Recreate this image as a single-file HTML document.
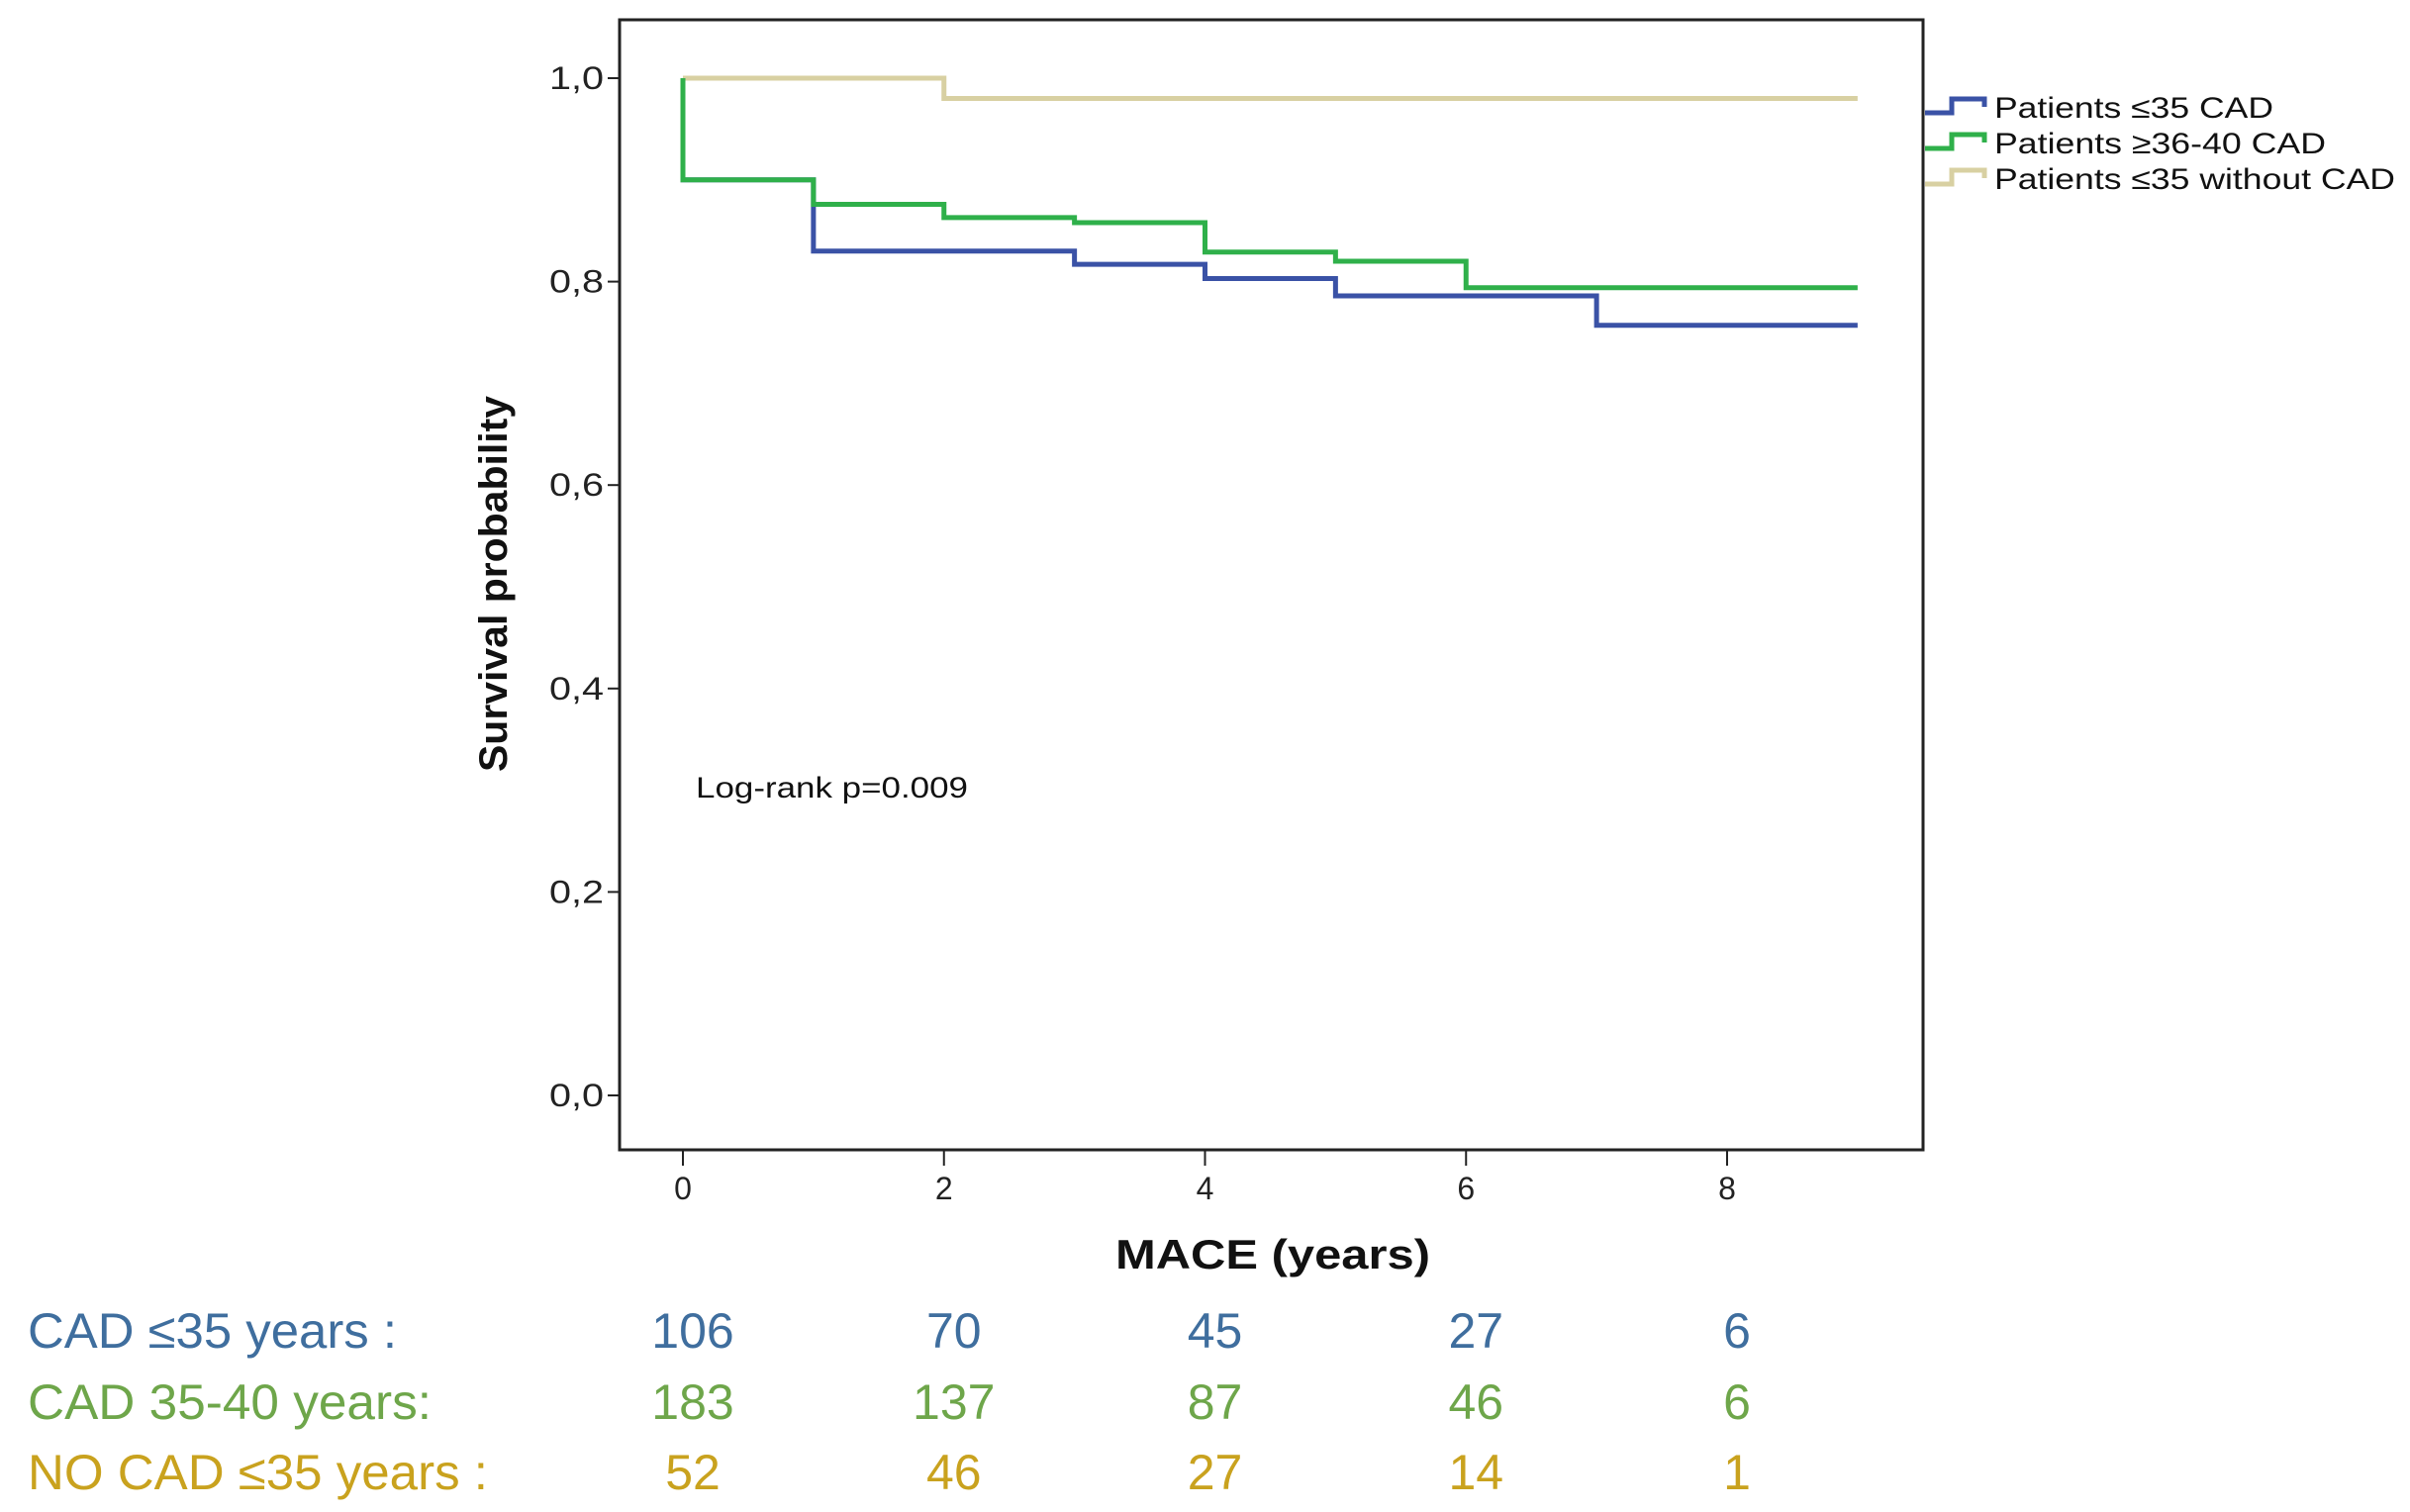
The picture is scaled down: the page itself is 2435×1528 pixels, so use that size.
<!DOCTYPE html>
<html><head><meta charset="utf-8"><style>
html,body{margin:0;padding:0;background:#fff;}
svg{display:block;}
</style></head><body>
<svg id="chart" width="2435" height="1528" viewBox="0 0 2435 1528" xmlns="http://www.w3.org/2000/svg">
  <rect x="626" y="20" width="1317" height="1142" fill="#fff" stroke="#222" stroke-width="3"/>
  <g id="yticks"></g>
  <g id="xticks"></g>
  <g id="curves"></g>
  <text x="512" y="590" transform="rotate(-90 512 590)" text-anchor="middle" font-family="Liberation Sans, sans-serif" font-weight="bold" font-size="40" fill="#111" textLength="380" lengthAdjust="spacingAndGlyphs">Survival probability</text>
  <text x="1286" y="1282" text-anchor="middle" font-family="Liberation Sans, sans-serif" font-weight="bold" font-size="42" fill="#111" textLength="318" lengthAdjust="spacingAndGlyphs">MACE  (years)</text>
  <text x="703" y="806" font-family="Liberation Sans, sans-serif" font-size="30" fill="#111" textLength="275" lengthAdjust="spacingAndGlyphs">Log-rank p=0.009</text>
  <g id="legend"></g>
  <g id="risk"></g>
</svg>
<script>
const yTicks = [0, 0.2, 0.4, 0.6, 0.8, 1.0];
const yTickLabels = ["0,0","0,2","0,4","0,6","0,8","1,0"];
const xTicks = [0, 2, 4, 6, 8];
const seriesNames = ["Patients \u226435 CAD","Patients \u226536-40 CAD","Patients \u226435 without CAD"];
const blueTimes = [0, 0, 1, 3, 4, 5, 7, 9];
const blueValues = [1.0, 0.9, 0.830, 0.817, 0.803, 0.786, 0.757, 0.757];
const greenTimes = [0, 0, 1, 2, 3, 4, 5, 6, 9];
const greenValues = [1.0, 0.9, 0.876, 0.863, 0.858, 0.829, 0.820, 0.794, 0.794];
const tanTimes = [0, 2, 9];
const tanValues = [1.0, 0.980, 0.980];
const riskLabels = ["CAD \u226435 years :","CAD 35-40 years:","NO CAD \u226435 years :"];
const riskBlue = [106, 70, 45, 27, 6];
const riskGreen = [183, 137, 87, 46, 6];
const riskGold = [52, 46, 27, 14, 1];

const NS = "http://www.w3.org/2000/svg";
const X = t => 690 + t * (1745 - 690) / 8;
const Y = v => 1107 - v * (1107 - 79);
function mk(tag, attrs, parent){const e=document.createElementNS(NS,tag);for(const k in attrs)e.setAttribute(k,attrs[k]);parent.appendChild(e);return e;}

const yg=document.getElementById('yticks');
yTicks.forEach((v,i)=>{
  const l=mk('line',{x1:614,x2:626,y1:Y(v),y2:Y(v),stroke:'#222','stroke-width':2},yg);
  
  
  const t=mk('text',{x:610,y:Y(v)+11,'text-anchor':'end','font-family':'Liberation Sans, sans-serif','font-size':32,fill:'#222',textLength:55,lengthAdjust:'spacingAndGlyphs'},yg);
  t.textContent=yTickLabels[i];
  
  
});
const xg=document.getElementById('xticks');
xTicks.forEach(v=>{
  const l=mk('line',{x1:X(v),x2:X(v),y1:1162,y2:1178,stroke:'#222','stroke-width':2},xg);
  
  
  const t=mk('text',{x:X(v),y:1212,'text-anchor':'middle','font-family':'Liberation Sans, sans-serif','font-size':32,fill:'#222'},xg);
  t.textContent=String(v);
  
  
});
function stepPath(ts,vs){let d='M'+X(ts[0])+','+Y(vs[0]);for(let i=1;i<ts.length;i++){d+=' H'+X(ts[i])+' V'+Y(vs[i]);}return d;}
const cg=document.getElementById('curves');
const tan=mk('path',{d:stepPath(tanTimes,tanValues),fill:'none',stroke:'#d8d0a2','stroke-width':5},cg);


const blue=mk('path',{d:stepPath(blueTimes,blueValues),fill:'none',stroke:'#3a52a6','stroke-width':5},cg);


const green=mk('path',{d:stepPath(greenTimes,greenValues),fill:'none',stroke:'#2fb04a','stroke-width':5},cg);



const lg=document.getElementById('legend');
const legColors=['#3a52a6','#2fb04a','#d8d0a2'];
const legY=[108,144,180];
const legLen=[282,335,405];
seriesNames.forEach((n,i)=>{
  const y=legY[i];
  const p=mk('path',{d:`M1945,${y+6} H1972 V${y-8} H2005 V${y}`,fill:'none',stroke:legColors[i],'stroke-width':5},lg);
  
  
  const t=mk('text',{x:2015,y:y+11,'font-family':'Liberation Sans, sans-serif','font-size':30,fill:'#111',textLength:legLen[i],lengthAdjust:'spacingAndGlyphs'},lg);
  t.textContent=n;
  
  
});

const rg=document.getElementById('risk');
const riskRows=[riskBlue,riskGreen,riskGold];
const riskColors=['#3f6e9e','#6ea64a','#c9a21e'];
const rowY=[1362,1434,1505];
const labelLen=[373,408,465];
riskLabels.forEach((lab,i)=>{
  const t=mk('text',{x:28,y:rowY[i],'font-family':'Liberation Sans, sans-serif','font-size':50,fill:riskColors[i],textLength:labelLen[i],lengthAdjust:'spacingAndGlyphs'},rg);
  t.textContent=lab;
  
  
  riskRows[i].forEach((v,j)=>{
    const n=mk('text',{x:X(xTicks[j])+10,y:rowY[i],'text-anchor':'middle','font-family':'Liberation Sans, sans-serif','font-size':50,fill:riskColors[i]},rg);
    n.textContent=String(v);
    
    
  });
});
</script>
</body></html>
